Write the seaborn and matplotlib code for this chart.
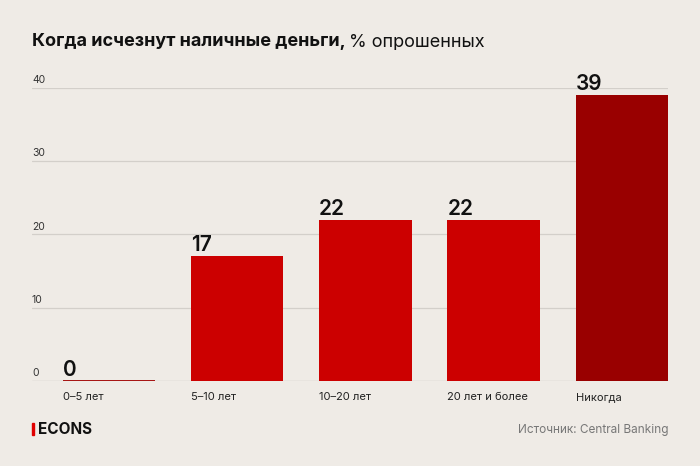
import matplotlib
matplotlib.use("Agg")
import matplotlib.pyplot as plt
import seaborn as sns
import pandas as pd

# data
categories = ["0–5 лет", "5–10 лет", "10–20 лет", "20 лет и более", "Никогда"]
values = [0, 17, 22, 22, 39]
bar_colors = ["#cc0000", "#cc0000", "#cc0000", "#cc0000", "#990000"]
y_ticks = [0, 10, 20, 30, 40]

sns.set_theme(style="white")
plt.rcParams["font.family"] = ["Inter", "DejaVu Sans"]

bg = "#efebe6"
fig = plt.figure(figsize=(7, 4.66), dpi=100, facecolor=bg)
ax = fig.add_axes([32 / 700, 85 / 466, 636 / 700, 293 / 466])
ax.set_facecolor(bg)

df = pd.DataFrame({"cat": categories, "val": values})
sns.barplot(data=df, x="cat", y="val", hue="cat", palette=bar_colors,
            legend=False, width=0.72, ax=ax, saturation=1)

# thin line for the zero bar, value labels above bars
for patch, v, c in zip(ax.patches, values, bar_colors):
    patch.set_edgecolor(c if v > 0 else "#a00000")
    patch.set_linewidth(0 if v > 0 else 1.3)
    ax.text(patch.get_x(), v + 0.7, str(v), ha="left", va="baseline",
            fontsize=15, fontweight="semibold", color="#111111")

ax.set_xlim(-0.6, 4.36)
ax.set_ylim(0, 40)

# grid + y labels sitting on top of lines
for t in y_ticks:
    ax.axhline(t, color="#b9b5b0" if t == 0 else "#d3cfca", lw=0.9, zorder=0.5)
    ax.text(-0.6, t + 0.4, str(t), ha="left", va="bottom", fontsize=7.5,
            color="#333333")

# category labels, left aligned under each bar
for patch, cat in zip(ax.patches, categories):
    ax.text(patch.get_x(), -2.2, cat, ha="left", va="center", fontsize=8,
            color="#222222")

ax.set_xticks([])
ax.set_yticks([])
ax.set_xlabel("")
ax.set_ylabel("")
sns.despine(ax=ax, left=True, bottom=True)

# title
t1 = fig.text(32 / 700, 1 - 42 / 466, "Когда исчезнут наличные деньги,",
              fontsize=13, fontweight="bold", color="#111111", va="center")
fig.canvas.draw()
bb = t1.get_window_extent()
fig.text((bb.x1 + 3) / 700, 1 - 42 / 466, "% опрошенных", fontsize=13,
         color="#111111", va="center")

# footer
fig.patches.append(plt.Rectangle((32 / 700, 1 - 435 / 466), 2.2 / 700, 12 / 466,
                                 transform=fig.transFigure, color="#e00000"))
fig.text(38 / 700, 1 - 429 / 466, "ECONS", fontsize=11, fontweight="bold",
         color="#111111", va="center")
fig.text(668 / 700, 1 - 430 / 466, "Источник: Central Banking", fontsize=8.5,
         color="#777777", ha="right", va="center")

fig.savefig("out.png", dpi=100, facecolor=bg)
